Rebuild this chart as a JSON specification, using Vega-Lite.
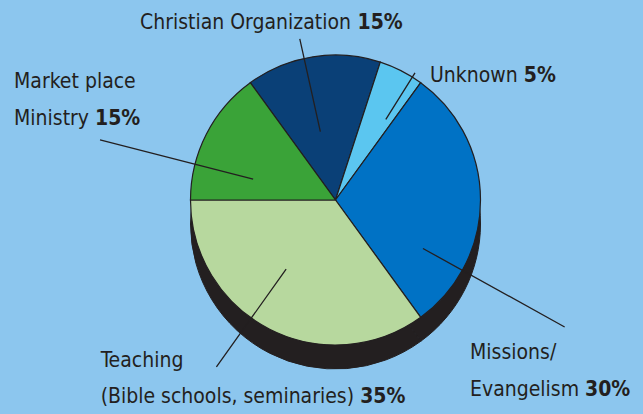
{
  "$schema": "https://vega.github.io/schema/vega-lite/v6.json",
  "width": 615,
  "height": 400,
  "autosize": "none",
  "padding": {"left": 28, "top": 0, "right": 0, "bottom": 14},
  "background": "#8cc6ee",
  "config": {
    "view": {"stroke": null},
    "text": {"font": "DejaVu Sans Condensed", "fontSize": 21, "color": "#231f20", "align": "left", "baseline": "alphabetic"}
  },
  "data": {
    "values": [
      {"cat": "Christian Organization", "pct": 15, "ord": 1, "l1": "", "l2": "Christian Organization", "p": "15%"},
      {"cat": "Unknown", "pct": 5, "ord": 2, "l1": "", "l2": "Unknown", "p": "5%"},
      {"cat": "Missions/Evangelism", "pct": 30, "ord": 3, "l1": "Missions/", "l2": "Evangelism", "p": "30%"},
      {"cat": "Teaching", "pct": 35, "ord": 4, "l1": "Teaching", "l2": "(Bible schools, seminaries)", "p": "35%"},
      {"cat": "Market place Ministry", "pct": 15, "ord": 5, "l1": "Market place", "l2": "Ministry", "p": "15%"}
    ]
  },
  "transform": [
    {"stack": "pct", "groupby": [], "sort": [{"field": "ord", "order": "ascending"}], "as": ["s0", "s1"]},
    {"fold": ["s0", "s1"], "as": ["k", "v"]},
    {"joinaggregate": [{"op": "mean", "field": "v", "as": "mid"}], "groupby": ["cat"]},
    {"filter": "datum.k == 's0'"}
  ],
  "layer": [
    {
      "mark": {"type": "arc", "radius": 145, "color": "#231f20", "stroke": "#231f20", "strokeWidth": 1, "yOffset": 24},
      "encoding": {
        "theta": {"field": "s0", "type": "quantitative", "stack": null, "scale": {"domain": [0, 100], "range": [-0.62832, 5.65487]}},
        "theta2": {"field": "s1"}
      }
    },
    {
      "mark": {"type": "arc", "radius": 145, "stroke": "#231f20", "strokeWidth": 1.2},
      "encoding": {
        "theta": {"field": "s0", "type": "quantitative", "stack": null, "scale": {"domain": [0, 100], "range": [-0.62832, 5.65487]}},
        "theta2": {"field": "s1"},
        "color": {"field": "cat", "type": "nominal", "legend": null,
          "scale": {"domain": ["Christian Organization", "Unknown", "Missions/Evangelism", "Teaching", "Market place Ministry"],
                    "range": ["#0a4077", "#5bc6f0", "#0072c5", "#b7d89e", "#3aa338"]}}
      }
    },
    {
      "transform": [{"filter": "datum.cat == 'Christian Organization'"}],
      "encoding": {"theta": {"field": "mid", "type": "quantitative", "stack": null, "scale": {"domain": [0, 100], "range": [-0.62832, 5.65487]}}},
      "layer": [
        {"mark": {"type": "arc", "radius": 165, "radius2": 70, "thetaOffset": -0.0611, "theta2Offset": -0.0611, "filled": false, "stroke": "#231f20", "strokeWidth": 1.3}, "encoding": {"theta2": {"field": "mid"}}},
        {"mark": {"type": "text", "radius": 165, "thetaOffset": -0.0611, "dx": -159.8, "dy": -9.6}, "encoding": {"text": {"field": "l2"}}},
        {"mark": {"type": "text", "radius": 165, "thetaOffset": -0.0611, "dx": 57.7, "dy": -9.6, "fontWeight": "bold"}, "encoding": {"text": {"field": "p"}}}
      ]
    },
    {
      "transform": [{"filter": "datum.cat == 'Unknown'"}],
      "encoding": {"theta": {"field": "mid", "type": "quantitative", "stack": null, "scale": {"domain": [0, 100], "range": [-0.62832, 5.65487]}}},
      "layer": [
        {"mark": {"type": "arc", "radius": 150, "radius2": 95, "thetaOffset": 0.0873, "theta2Offset": 0.0873, "filled": false, "stroke": "#231f20", "strokeWidth": 1.3}, "encoding": {"theta2": {"field": "mid"}}},
        {"mark": {"type": "text", "radius": 150, "thetaOffset": 0.0873, "dx": 15, "dy": 9.2}, "encoding": {"text": {"field": "l2"}}},
        {"mark": {"type": "text", "radius": 150, "thetaOffset": 0.0873, "dx": 108.8, "dy": 9.2, "fontWeight": "bold"}, "encoding": {"text": {"field": "p"}}}
      ]
    },
    {
      "transform": [{"filter": "datum.cat == 'Missions/Evangelism'"}],
      "encoding": {"theta": {"field": "mid", "type": "quantitative", "stack": null, "scale": {"domain": [0, 100], "range": [-0.62832, 5.65487]}}},
      "layer": [
        {"mark": {"type": "arc", "radius": 262, "radius2": 100, "thetaOffset": 0.5061, "theta2Offset": 0.5061, "filled": false, "stroke": "#231f20", "strokeWidth": 1.3}, "encoding": {"theta2": {"field": "mid"}}},
        {"mark": {"type": "text", "radius": 262, "thetaOffset": 0.5061, "dx": -94.6, "dy": 32.3}, "encoding": {"text": {"field": "l1"}}},
        {"mark": {"type": "text", "radius": 262, "thetaOffset": 0.5061, "dx": -94.6, "dy": 69}, "encoding": {"text": {"field": "l2"}}},
        {"mark": {"type": "text", "radius": 262, "thetaOffset": 0.5061, "dx": 20.4, "dy": 69, "fontWeight": "bold"}, "encoding": {"text": {"field": "p"}}}
      ]
    },
    {
      "transform": [{"filter": "datum.cat == 'Teaching'"}],
      "encoding": {"theta": {"field": "mid", "type": "quantitative", "stack": null, "scale": {"domain": [0, 100], "range": [-0.62832, 5.65487]}}},
      "layer": [
        {"mark": {"type": "arc", "radius": 205, "radius2": 85, "thetaOffset": 0.1484, "theta2Offset": 0.1484, "filled": false, "stroke": "#231f20", "strokeWidth": 1.3}, "encoding": {"theta2": {"field": "mid"}}},
        {"mark": {"type": "text", "radius": 205, "thetaOffset": 0.1484, "dx": -115.8, "dy": 0.6}, "encoding": {"text": {"field": "l1"}}},
        {"mark": {"type": "text", "radius": 205, "thetaOffset": 0.1484, "dx": -115.8, "dy": 36.1}, "encoding": {"text": {"field": "l2"}}},
        {"mark": {"type": "text", "radius": 205, "thetaOffset": 0.1484, "dx": 143.7, "dy": 36.1, "fontWeight": "bold"}, "encoding": {"text": {"field": "p"}}}
      ]
    },
    {
      "transform": [{"filter": "datum.cat == 'Market place Ministry'"}],
      "encoding": {"theta": {"field": "mid", "type": "quantitative", "stack": null, "scale": {"domain": [0, 100], "range": [-0.62832, 5.65487]}}},
      "layer": [
        {"mark": {"type": "arc", "radius": 243, "radius2": 85, "thetaOffset": -0.2217, "theta2Offset": -0.2217, "filled": false, "stroke": "#231f20", "strokeWidth": 1.3}, "encoding": {"theta2": {"field": "mid"}}},
        {"mark": {"type": "text", "radius": 243, "thetaOffset": -0.2217, "dx": -86, "dy": -51.7}, "encoding": {"text": {"field": "l1"}}},
        {"mark": {"type": "text", "radius": 243, "thetaOffset": -0.2217, "dx": -86, "dy": -15}, "encoding": {"text": {"field": "l2"}}},
        {"mark": {"type": "text", "radius": 243, "thetaOffset": -0.2217, "dx": -5, "dy": -15, "fontWeight": "bold"}, "encoding": {"text": {"field": "p"}}}
      ]
    }
  ]
}
